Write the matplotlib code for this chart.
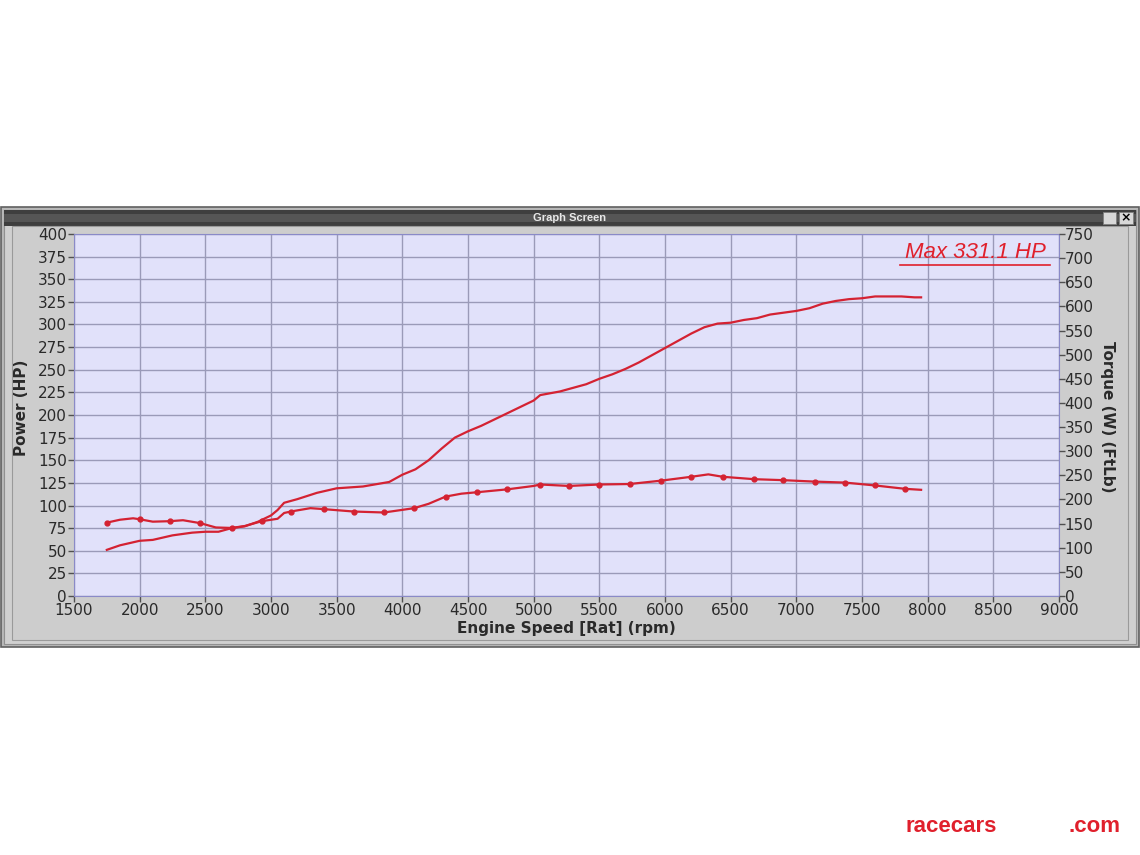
from matplotlib import pyplot as plt
from matplotlib.patches import Rectangle
from matplotlib.lines import Line2D
import numpy as np

# power curve (HP)
power_rpm = [1750, 1850, 2000, 2100, 2250, 2400, 2500, 2600, 2700, 2800, 2900,
             3000, 3050, 3100, 3200, 3350, 3500, 3700, 3900, 4000, 4100, 4200,
             4300, 4400, 4500, 4600, 4700, 4800, 4900, 5000, 5050, 5200, 5300,
             5400, 5500, 5600, 5700, 5800, 5900, 6000, 6100, 6200, 6300, 6400,
             6500, 6600, 6700, 6800, 6900, 7000, 7100, 7200, 7300, 7400, 7500,
             7600, 7700, 7800, 7900, 7950]
power_hp = [51, 56, 61, 62, 67, 70, 71, 71, 75, 77, 82,
            89, 95, 103, 107, 114, 119, 121, 126, 134, 140, 150,
            163, 175, 182, 188, 195, 202, 209, 216, 222, 226, 230,
            234, 240, 245, 251, 258, 266, 274, 282, 290, 297, 301,
            302, 305, 307, 311, 313, 315, 318, 323, 326, 328, 329,
            331, 331, 331, 330, 330]

# torque curve (ft-lb)
torque_rpm = [1750, 1850, 1950, 2000, 2100, 2230, 2330, 2460, 2580, 2700, 2800,
              2930, 3050, 3100, 3150, 3300, 3400, 3630, 3860, 4090, 4200, 4330,
              4450, 4570, 4800, 5000, 5050, 5270, 5500, 5730, 5970, 6200, 6330,
              6440, 6680, 6900, 7140, 7370, 7600, 7830, 7950]
torque_ftlb = [152, 158, 161, 159, 154, 155, 157, 151, 142, 141, 145,
               155, 160, 172, 175, 182, 180, 175, 173, 182, 191, 206,
               212, 215, 221, 228, 231, 228, 231, 232, 239, 247, 252,
               247, 242, 240, 237, 235, 229, 222, 220]
# rpm where the torque trace shows sample dots
dot_rpm = [1750, 2000, 2230, 2460, 2700, 2930, 3150, 3400, 3630, 3860, 4090,
           4330, 4570, 4800, 5050, 5270, 5500, 5730, 5970, 6200, 6440, 6680,
           6900, 7140, 7370, 7600, 7830]

x_ticks = list(range(1500, 9001, 500))
hp_ticks = list(range(0, 401, 25))
tq_ticks = list(range(0, 751, 50))


def main():
    fig = plt.figure(figsize=(11.4, 8.55), dpi=100)
    fig.patch.set_facecolor('white')
    W, H = 1140.0, 855.0

    def box(x0, y0, x1, y1, z=-10, **kw):
        fig.patches.append(Rectangle((x0 / W, 1 - y1 / H), (x1 - x0) / W, (y1 - y0) / H,
                                     transform=fig.transFigure, figure=fig, zorder=z, **kw))

    # window frame
    box(1, 207, 1139, 647, z=-10, facecolor='#b8b8b8', edgecolor='#606060', lw=1.2)
    box(4, 210, 1136, 644, z=-9, facecolor='#d0d0d0', edgecolor='#909090', lw=0.8)
    box(4, 210, 1136, 226, z=-8, facecolor='#3e3e3e', edgecolor='none')
    box(4, 214, 1136, 222, z=-8, facecolor='#555555', edgecolor='none')
    box(12, 226, 1128, 640, z=-8, facecolor='#cdcdcd', edgecolor='#9a9a9a', lw=0.8)
    box(1103, 212, 1116, 224, z=-7, facecolor='#d8d8d8', edgecolor='#808080', lw=0.6)
    box(1119, 212, 1133, 224, z=-7, facecolor='#d8d8d8', edgecolor='#808080', lw=0.6)
    fig.text(570 / W, 1 - 218 / H, 'Graph Screen', color='#e8e8e8', fontsize=8,
             fontweight='bold', ha='center', va='center', family='Liberation Sans')
    fig.text(1126 / W, 1 - 218 / H, '×', color='black', fontsize=9,
             fontweight='bold', ha='center', va='center')

    ax = fig.add_axes([74 / W, 1 - 596 / H, (1059 - 74) / W, (596 - 234) / H])
    ax.set_facecolor('#e1e1fa')
    ax.set_xlim(1500, 9000)
    ax.set_ylim(0, 400)
    ax.set_xticks(x_ticks)
    ax.set_yticks(hp_ticks)
    ax.grid(True, color='#9a9ab8', lw=1.0)
    ax.set_axisbelow(True)
    for s in ax.spines.values():
        s.set_color('#8a8ac8')
    ax.tick_params(direction='out', length=4, width=1, color='#505050', pad=1,
                   labelsize=11, labelcolor='#2a2a2a')

    red = '#d42232'
    ax.plot(power_rpm, power_hp, color=red, lw=1.6)

    ax2 = ax.twinx()
    ax2.set_ylim(0, 750)
    ax2.set_yticks(tq_ticks)
    ax2.tick_params(direction='out', length=4, width=1, color='#505050', pad=0,
                    labelsize=11, labelcolor='#2a2a2a')
    for s in ax2.spines.values():
        s.set_visible(False)
    mask = [r in dot_rpm for r in torque_rpm]
    ax2.plot(torque_rpm, torque_ftlb, color=red, lw=1.6, marker='o',
             markersize=3.5, markevery=mask)

    ax.set_xlabel('Engine Speed [Rat] (rpm)', fontsize=11, fontweight='bold',
                  color='#2a2a2a', labelpad=2)
    fig.text(22 / W, 1 - 408 / H, 'Power (HP)', rotation=90, fontsize=11,
             fontweight='bold', color='#2a2a2a', ha='center', va='center')
    fig.text(1108 / W, 1 - 417 / H, 'Torque (W) (FtLb)', rotation=270, fontsize=11,
             fontweight='bold', color='#2a2a2a', ha='center', va='center')

    # max label
    fig.text(975 / W, 1 - 253 / H, 'Max 331.1 HP', color='#e0202c', fontsize=16,
             style='italic', ha='center', va='center', family='Liberation Sans')
    fig.add_artist(Line2D([900 / W, 1050 / W], [1 - 265 / H, 1 - 265 / H],
                          color='#e0202c', lw=1.2, transform=fig.transFigure))

    # watermark
    fig.text(951 / W, 1 - 826 / H, 'racecars', color='#e0202c', fontsize=16,
             fontweight='bold', ha='center', va='center',
             family=['Liberation Sans Narrow', 'Liberation Sans'])
    fig.text(1095 / W, 1 - 826 / H, '.com', color='#e0202c', fontsize=16,
             fontweight='bold', ha='center', va='center',
             family=['Liberation Sans Narrow', 'Liberation Sans'])

    fig.savefig('out.png', dpi=100)


if __name__ == '__main__':
    main()
